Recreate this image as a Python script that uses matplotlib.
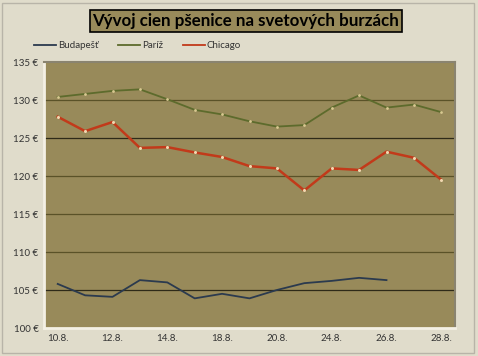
import numpy as np
import matplotlib.pyplot as plt
from matplotlib.patches import Rectangle
from matplotlib.lines import Line2D

# Data
dates = ['10.8.', '11.8.', '12.8.', '13.8.', '14.8.', '17.8.', '18.8.', '19.8.',
         '20.8.', '21.8.', '24.8.', '25.8.', '26.8.', '27.8.', '28.8.']
budapest = [105.8, 104.3, 104.1, 106.3, 106.0, 103.9, 104.5, 103.9,
            105.0, 105.9, 106.2, 106.6, 106.3]
pariz = [130.4, 130.8, 131.2, 131.4, 130.1, 128.7, 128.1, 127.2,
         126.5, 126.7, 129.0, 130.6, 129.0, 129.4, 128.4]
chicago = [127.8, 125.9, 127.1, 123.7, 123.8, 123.1, 122.5, 121.3,
           121.0, 118.1, 121.0, 120.8, 123.2, 122.4, 119.5]
yticks = [100, 105, 110, 115, 120, 125, 130, 135]

plt.rcParams['font.family'] = ['Lato', 'DejaVu Sans']

fig = plt.figure(figsize=(4.78, 3.56), dpi=100, facecolor='#e0dccb')
ax = fig.add_axes([44 / 478, 1 - 328 / 356, 411 / 478, 266 / 356])
ax.set_facecolor('#988a5a')

x = np.arange(len(dates))
ax.plot(x[:len(budapest)], budapest, color='#2b3a4e', lw=1.3)
ax.plot(x, pariz, color='#5d6b2c', lw=1.3,
        marker='o', ms=2, mfc='#d8c890', mec='none')
ax.plot(x, chicago, color='#c23a1a', lw=1.8,
        marker='o', ms=2.2, mfc='#f0d8b0', mec='none')

# Gridlines (two of them darker, as in the original)
for v in yticks[1:-1]:
    c = '#2e2a18' if v in (105, 125) else '#5a5228'
    ax.axhline(v, color=c, lw=0.9, zorder=0.5)

ax.set_ylim(100, 135)
ax.set_xlim(-0.5, len(dates) - 0.5)
ax.set_yticks(yticks)
ax.set_yticklabels([f'{v} €' for v in yticks], fontsize=7, color='#333333')
ax.set_xticks(x[::2])
ax.set_xticklabels(dates[::2], fontsize=7, color='#333333')
ax.tick_params(length=0, pad=4)

for s in ['left', 'bottom']:
    ax.spines[s].set_color('#f4f0e4')
    ax.spines[s].set_linewidth(2)
for s in ['top', 'right']:
    ax.spines[s].set_color('#8a8470')
    ax.spines[s].set_linewidth(1.5)

# Title in a boxed label
fig.text(246 / 478, 1 - 21 / 356, 'Vývoj cien pšenice na svetových burzách',
         ha='center', va='center', fontsize=12.2, fontweight='bold', color='black',
         bbox=dict(boxstyle='square,pad=0.16', fc='#988a5a', ec='black', lw=1.2))

handles = [Line2D([], [], color='#2b3a4e', lw=1.3),
           Line2D([], [], color='#5d6b2c', lw=1.3),
           Line2D([], [], color='#c23a1a', lw=1.3)]
leg = fig.legend(handles, ['Budapešť', 'Paríž', 'Chicago'],
                 loc='center left', bbox_to_anchor=(25 / 478, 1 - 46 / 356), ncol=3,
                 frameon=False, fontsize=7, handlelength=2.3, handletextpad=0.2,
                 columnspacing=2.0)
for t in leg.get_texts():
    t.set_color('#333333')

# Outer border
fig.patches.append(Rectangle((2 / 478, 3 / 356), 472 / 478, 350 / 356,
                             transform=fig.transFigure, fill=False,
                             ec='#b8b4a8', lw=1))

fig.savefig('out.png', dpi=100, facecolor=fig.get_facecolor())
